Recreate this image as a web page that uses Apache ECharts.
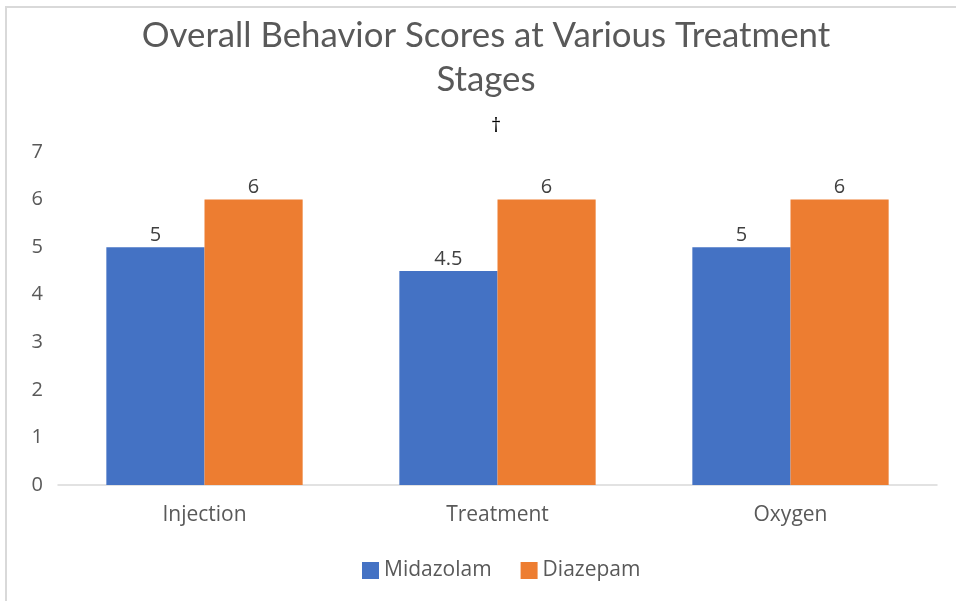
<!DOCTYPE html>
<html>
<head>
<meta charset="utf-8">
<script src="https://cdn.jsdelivr.net/npm/echarts@6/dist/echarts.min.js"></script>
<style>
  html, body { margin: 0; padding: 0; background: #fff; }
  #chart { width: 956px; height: 601px; }
  #frame { position: absolute; left: 5px; top: 6px; right: 0; bottom: 0;
    border-left: 2px solid #d9d9d9; border-top: 2px solid #d9d9d9; pointer-events: none; }
</style>
</head>
<body>
<div id="chart"></div>
<div id="frame"></div>
<script>
const categories = ["Injection", "Treatment", "Oxygen"];
const midazolam = [5, 4.5, 5];
const diazepam = [6, 6, 6];
const yTicks = [0, 1, 2, 3, 4, 5, 6, 7];

const titleFont = "Lato, sans-serif";
const font = "'Open Sans', sans-serif";
const chart = echarts.init(document.getElementById("chart"));

const option = {
  animation: false,
  textStyle: { fontFamily: font },
  title: [
    {
      text: "Overall Behavior Scores at Various Treatment\nStages",
      left: 481,
      top: 9,
      textAlign: "center",
      textStyle: { fontSize: 34.8, fontWeight: "normal", color: "#595959", lineHeight: 44, fontFamily: titleFont }
    },
    {
      text: "†",
      left: 491,
      top: 111,
      textAlign: "center",
      textStyle: { fontSize: 20, fontWeight: "normal", color: "#000", fontFamily: font }
    }
  ],
  legend: {
    data: ["Midazolam", "Diazepam"],
    left: 357,
    top: 555,
    itemWidth: 17,
    itemHeight: 17,
    itemGap: 29,
    icon: "rect",
    textStyle: { fontSize: 21, color: "#595959", fontFamily: font }
  },
  grid: { left: 58, right: 19, top: 152, bottom: 116, containLabel: false },
  xAxis: {
    type: "category",
    data: categories,
    axisLine: { lineStyle: { color: "#d9d9d9", width: 1.5 } },
    axisTick: { show: false },
    axisLabel: { fontSize: 21, color: "#595959", margin: 20 }
  },
  yAxis: {
    type: "value",
    min: yTicks[0],
    max: yTicks[yTicks.length - 1],
    interval: 1,
    splitLine: { show: false },
    axisLine: { show: false },
    axisTick: { show: false },
    axisLabel: { fontSize: 20, color: "#595959", margin: 15 }
  },
  series: [
    {
      name: "Midazolam",
      type: "bar",
      data: midazolam,
      barGap: "0%",
      barCategoryGap: "33%",
      itemStyle: { color: "#4472C4" },
      label: { show: true, position: "top", fontSize: 20, color: "#404040", distance: 2 }
    },
    {
      name: "Diazepam",
      type: "bar",
      data: diazepam,
      itemStyle: { color: "#ED7D31" },
      label: { show: true, position: "top", fontSize: 20, color: "#404040", distance: 2 }
    }
  ]
};

chart.setOption(option);
</script>
</body>
</html>
